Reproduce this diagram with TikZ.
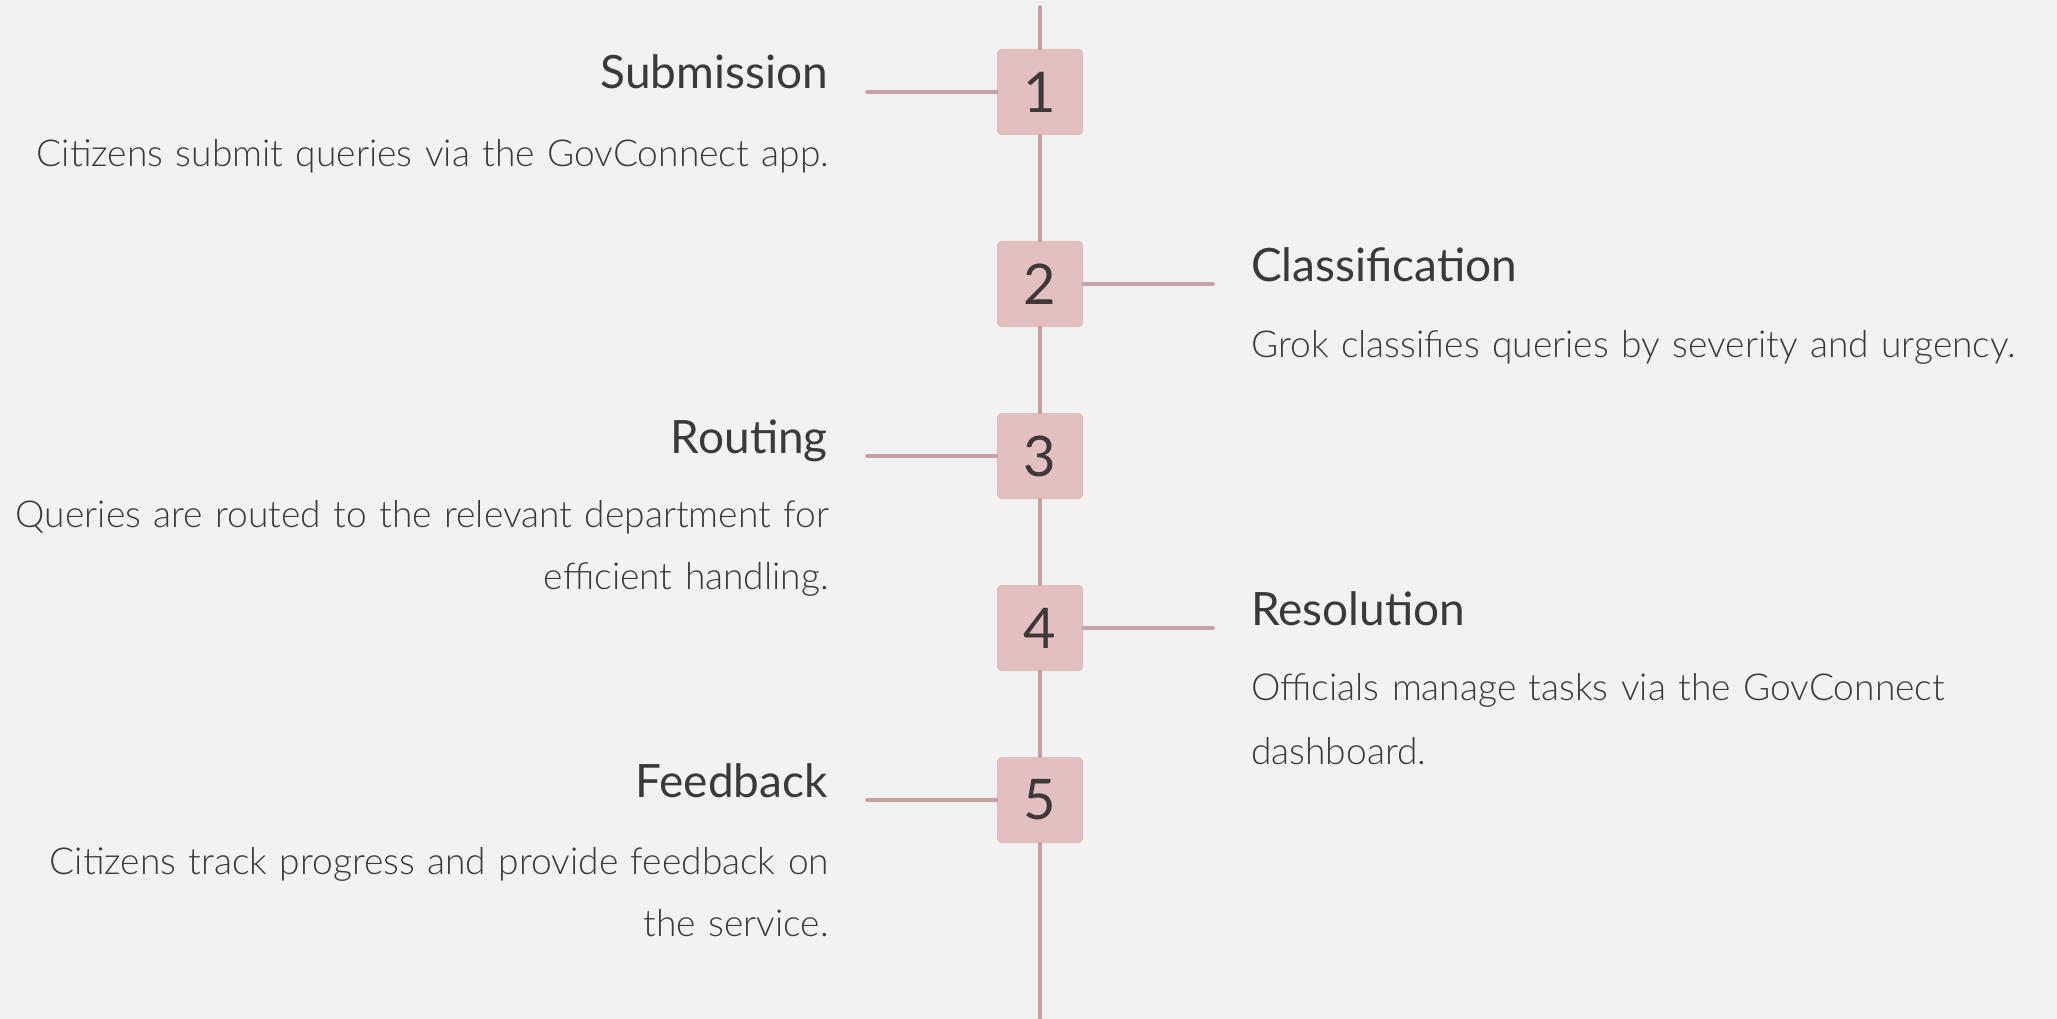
\documentclass[tikz,border=0pt]{standalone}
\usepackage{fontspec}
\setmainfont{Lato}
\IfFontExistsTF{Lato Light}{\newfontfamily\descfont{Lato Light}}{%
  \IfFontExistsTF{Fira Sans Light}{\newfontfamily\descfont{Fira Sans Light}}{\newfontfamily\descfont{Lato}}}
\newfontfamily\headfont{Lato}
\definecolor{bgc}{HTML}{F2F2F2}
\definecolor{boxc}{HTML}{E4BFBF}
\definecolor{linec}{HTML}{C8A2A2}
\definecolor{txtc}{HTML}{3D383A}
\newlength\mylenA
\newlength\mylenB
\newcommand\dsz{37}
\newcommand\hsz{46}
\begin{document}
\settowidth\mylenA{\descfont\fontsize{10pt}{12pt}\selectfont Queries are routed to the relevant department for}%
\settowidth\mylenB{\headfont\fontsize{10pt}{12pt}\selectfont Classification}%
\ifdim\mylenA>1pt \pgfmathsetmacro\dsz{7970/\mylenA}\fi
\ifdim\mylenB>1pt \pgfmathsetmacro\hsz{2660/\mylenB}\fi
\begin{tikzpicture}[x=1pt,y=-1pt,
  stepbox/.style={rectangle, fill=boxc, rounded corners=4pt, minimum width=86pt, minimum height=86pt, inner sep=0pt, text=txtc, font=\headfont\fontsize{56pt}{60pt}\selectfont},
  conn/.style={draw=linec, line width=3.5pt, line cap=round},
  headl/.style={anchor=base east, inner sep=0pt, text=txtc, font=\headfont\fontsize{\hsz pt}{\hsz pt}\selectfont},
  headr/.style={anchor=base west, inner sep=0pt, text=txtc, font=\headfont\fontsize{\hsz pt}{\hsz pt}\selectfont},
  descl/.style={anchor=base east, inner sep=0pt, text=txtc, text width=850pt, align=right, font=\descfont\fontsize{\dsz pt}{62pt}\selectfont},
  descr/.style={anchor=base west, inner sep=0pt, text=txtc, text width=820pt, align=left, font=\descfont\fontsize{\dsz pt}{64pt}\selectfont}
]
\useasboundingbox[fill=bgc] (0,0) rectangle (2057,1019);

\coordinate (top) at (1040,7);
\coordinate (bot) at (1040,1030);
\node[stepbox] (b1) at (1040,92) {1};
\node[stepbox] (b2) at (1040,284) {2};
\node[stepbox] (b3) at (1040,456) {3};
\node[stepbox] (b4) at (1040,628) {4};
\node[stepbox] (b5) at (1040,800) {5};

\draw[conn] (top) -- (b1.north);
\draw[conn] (b1.south) -- (b2.north);
\draw[conn] (b2.south) -- (b3.north);
\draw[conn] (b3.south) -- (b4.north);
\draw[conn] (b4.south) -- (b5.north);
\draw[conn] (b5.south) -- (bot);

\coordinate (c1) at (867,92);
\coordinate (c2) at (1213,284);
\coordinate (c3) at (867,456);
\coordinate (c4) at (1213,628);
\coordinate (c5) at (867,800);
\draw[conn] (b1.west) -- (c1);
\draw[conn] (b2.east) -- (c2);
\draw[conn] (b3.west) -- (c3);
\draw[conn] (b4.east) -- (c4);
\draw[conn] (b5.west) -- (c5);

\node[headl] (h1) at (828,89) {Submission};
\node[descl] (d1) at (829,167) {Citizens submit queries via the GovConnect app.};
\node[headr] (h2) at (1251,281) {Classification};
\node[descr] (d2) at (1251,357) {Grok classifies queries by severity and urgency.};
\node[headl] (h3) at (828,453) {Routing};
\node[descl] (d3) at (829,527) {Queries are routed to the relevant department for\\efficient handling.};
\node[headr] (h4) at (1251,625) {Resolution};
\node[descr] (d4) at (1251,700) {Officials manage tasks via the GovConnect\\dashboard.};
\node[headl] (h5) at (828,797) {Feedback};
\node[descl] (d5) at (829,874) {Citizens track progress and provide feedback on\\the service.};
\end{tikzpicture}
\end{document}
